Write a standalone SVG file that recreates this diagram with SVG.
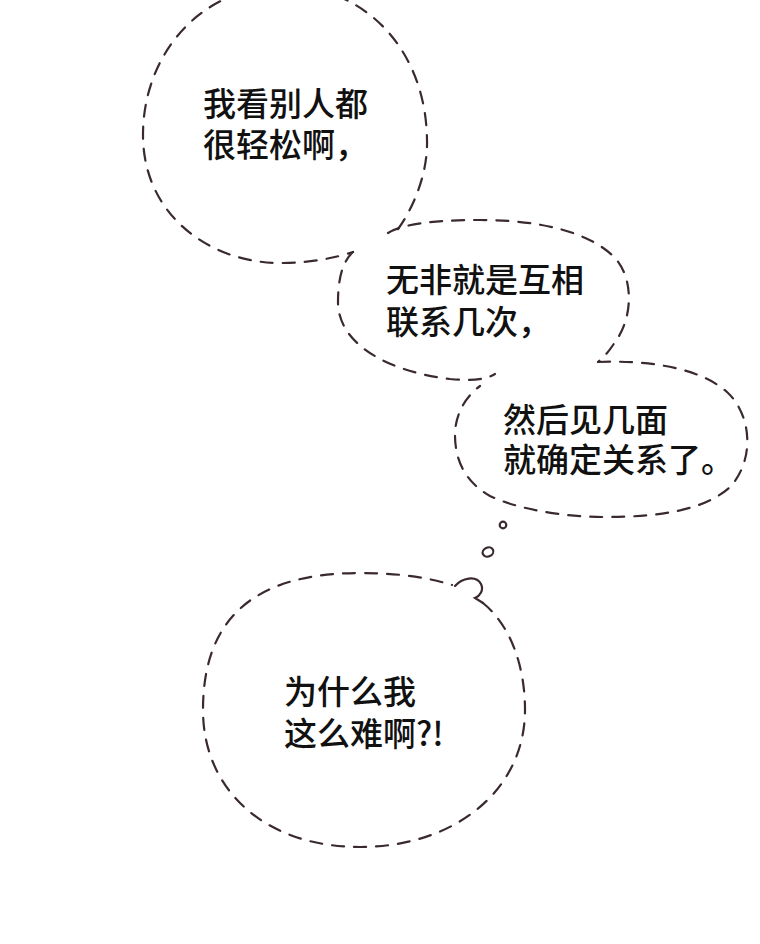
<svg xmlns="http://www.w3.org/2000/svg" width="760" height="944" viewBox="0 0 760 944">
<style>
.b{fill:none;stroke:#3a2a2e;stroke-width:2.2;stroke-dasharray:12 10;stroke-linecap:round}
.s{fill:none;stroke:#3a2a2e;stroke-width:2.2;stroke-linecap:round}
.t{font-family:"Noto Sans CJK SC","Noto Sans",sans-serif;font-size:33px;font-weight:500;fill:#111}
</style>
<rect width="760" height="944" fill="#fff"/>
<g id="bubble1">
<path class="b" d="M398 229 C412 210 428 175 427 140 C426 50 365 -14 285 -14 C200 -14 143 55 143 135 C143 215 210 263 280 263 C310 263 335 258 353 252"/>
<text class="t"><tspan x="203" y="116">我看别人都</tspan><tspan x="203" y="157">很轻松啊，</tspan></text>
</g>
<g id="bubble2">
<path class="b" d="M353 252 C342 262 338 280 338 302 C338 345 390 372 450 379 C470 381 485 380 495 374"/>
<path class="b" d="M388 233 C400 225 430 220 480 220 C540 220 590 232 615 258 C635 280 632 320 615 342 C610 350 605 356 598 362"/>
<text class="t"><tspan x="386" y="292">无非就是互相</tspan><tspan x="386" y="334">联系几次，</tspan></text>
</g>
<g id="bubble3">
<path class="b" d="M598 362 C650 360 700 368 727 392 C752 415 755 460 730 487 C705 510 660 517 605 517 C560 517 515 508 490 496 C465 482 455 460 455 435 C455 415 465 397 480 386"/>
<text class="t"><tspan x="503" y="432">然后见几面</tspan><tspan x="503" y="472">就确定关系了。</tspan></text>
</g>
<g id="dots">
<circle class="s" cx="503" cy="525" r="3.3"/>
<ellipse class="s" cx="488" cy="552" rx="5.5" ry="4.5" transform="rotate(-25 488 552)"/>
</g>
<g id="bubble4">
<path class="b" d="M483 603 C510 625 525 665 525 710 C525 790 455 847 360 847 C265 847 203 790 203 710 C203 615 258 573 360 573 C400 573 430 578 452 585"/>
<path class="s" d="M455 586 C462 578 476 575 481 584 C484 590 480 596 475 598 L483 603"/>
<text class="t"><tspan x="284" y="704">为什么我</tspan><tspan x="284" y="746">这么难啊?!</tspan></text>
</g>
</svg>
